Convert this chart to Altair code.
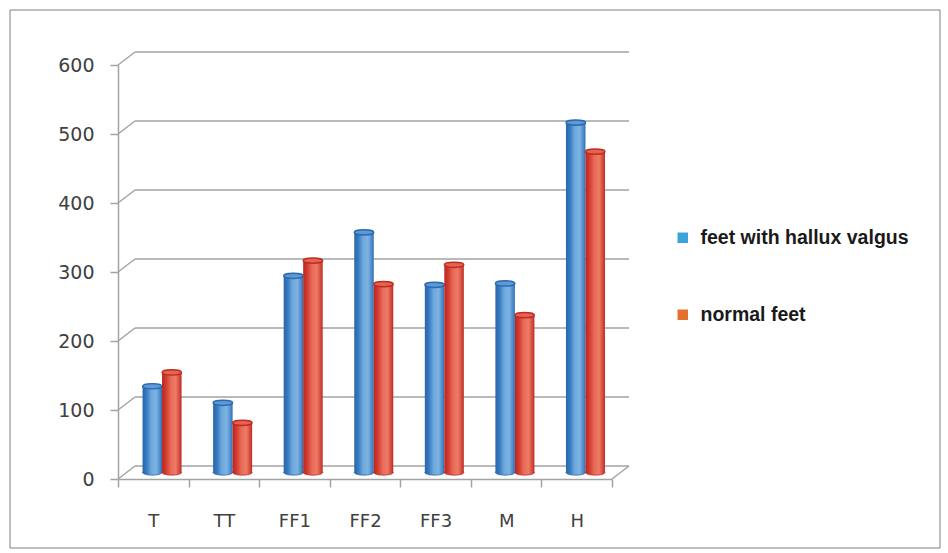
import altair as alt
import pandas as pd

# Mean values per foot region for the two groups
categories = ["T", "TT", "FF1", "FF2", "FF3", "M", "H"]
hallux_valgus = [125, 101, 285, 348, 272, 274, 507]
normal_feet = [145, 72, 307, 273, 301, 228, 465]
series_names = ["feet with hallux valgus", "normal feet"]
legend_colors = ["#3AA3DA", "#E4702E"]
y_ticks = [0, 100, 200, 300, 400, 500, 600]

n = len(categories)
W, H = 494, 414
DX, DY = 17, -13          # depth of the pseudo-3D back wall
MID = DY / 2              # bars stand halfway into the depth
BAR_W = 19.5
GRID = "#A3A3A3"
TXT = "#404040"

bars = pd.DataFrame({
    "cat": categories,
    "pos": [i + 0.5 for i in range(n)],
    "hv": hallux_valgus,
    "nf": normal_feet,
})
grid = pd.DataFrame({"v": y_ticks})
legend_df = pd.DataFrame({"s": series_names})

xs = alt.Scale(domain=[0, n], nice=False, zero=False, padding=0)
ys = alt.Scale(domain=[y_ticks[0], y_ticks[-1]], nice=False, padding=0)

label_expr = "[" + ",".join(f"'{c}'" for c in categories + [""]) + "][datum.value]"

x_axis = alt.Axis(
    values=list(range(n + 1)), labelExpr=label_expr, labelOffset=W / n / 2,
    tickSize=8, tickColor=GRID, tickWidth=1.5, domainColor=GRID, domainWidth=1.5,
    labelFont="DejaVu Sans", labelFontSize=18, labelColor=TXT, labelPadding=25,
    labelOverlap=False, labelFlush=False, grid=False, title=None, zindex=1,
)
y_axis = alt.Axis(
    values=y_ticks, tickSize=8, tickColor=GRID, tickWidth=1.5, domainColor=GRID,
    domainWidth=1.5, labelFont="DejaVu Sans", labelFontSize=19, labelColor=TXT,
    labelPadding=16, grid=False, title=None, zindex=1,
)


def grad(stops):
    return alt.LinearGradient(
        gradient="linear", x1=0, x2=1, y1=0, y2=0,
        stops=[alt.GradientStop(offset=o, color=c) for o, c in stops],
    )


blue_fill = grad([(0, "#2A66AA"), (0.2, "#3479C0"), (0.45, "#6EA8DC"),
                  (0.7, "#7DB3E2"), (0.9, "#4A8ACB"), (1, "#2E6BB0")])
red_fill = grad([(0, "#B8261F"), (0.2, "#D23A2E"), (0.45, "#E86A58"),
                 (0.7, "#EC7C66"), (0.9, "#D4473A"), (1, "#B82A22")])

ELLIPSE = "M -1 0 A 1 0.27 0 1 0 1 0 A 1 0.27 0 1 0 -1 0 Z"
SYM = BAR_W ** 2

# Outer frame
frame = alt.Chart(pd.DataFrame({"k": [0]})).mark_rect(
    fill="transparent", stroke="#7F7F7F", strokeWidth=1
).encode(
    x=alt.value(-108), x2=alt.value(822), y=alt.value(-55), y2=alt.value(483)
)

# Back-wall gridlines
back_grid = alt.Chart(grid).mark_rule(
    color=GRID, strokeWidth=1.5, xOffset=DX, x2Offset=DX, yOffset=DY, y2Offset=DY
).encode(
    x=alt.X(datum=0, scale=xs, axis=x_axis), x2=alt.X2(datum=n),
    y=alt.Y("v:Q", scale=ys, axis=y_axis), y2="v:Q",
)

# Diagonals joining the front axis to the back wall
left_links = alt.Chart(grid).mark_rule(
    color=GRID, strokeWidth=1.5, x2Offset=DX, y2Offset=DY
).encode(x=alt.datum(0), x2=alt.datum(0), y="v:Q", y2="v:Q")

right_link = alt.Chart(grid).transform_filter(
    alt.datum.v == y_ticks[0]
).mark_rule(
    color=GRID, strokeWidth=1.5, x2Offset=DX, y2Offset=DY
).encode(x=alt.datum(n), x2=alt.datum(n), y="v:Q", y2="v:Q")


def cylinder(field, dx, fill, cap_fill, cap_stroke):
    base = alt.Chart(bars)
    bottom = base.mark_point(
        shape=ELLIPSE, size=SYM, filled=True, fill=fill, stroke=cap_stroke,
        strokeWidth=0.8, opacity=1, xOffset=dx, yOffset=MID,
    ).encode(x="pos:Q", y=alt.datum(0))
    body = base.mark_bar(
        width=BAR_W, fill=fill, xOffset=dx, yOffset=MID, y2Offset=MID,
    ).encode(x="pos:Q", y=f"{field}:Q", y2=alt.datum(0))
    cap = base.mark_point(
        shape=ELLIPSE, size=SYM, filled=True, fill=cap_fill, stroke=cap_stroke,
        strokeWidth=1.4, opacity=1, xOffset=dx, yOffset=MID,
    ).encode(x="pos:Q", y=f"{field}:Q")
    return [bottom, body, cap]


blue = cylinder("hv", -1, blue_fill, "#5C9AD6", "#2C68AE")
red = cylinder("nf", 18.5, red_fill, "#E5644F", "#BE2C24")

legend_layer = alt.Chart(legend_df).transform_filter("false").mark_square().encode(
    color=alt.Color(
        "s:N",
        scale=alt.Scale(domain=series_names, range=legend_colors),
        legend=alt.Legend(
            orient="none", legendX=555, legendY=163, title=None, padding=0,
            symbolType="square", symbolSize=110, symbolStrokeWidth=0,
            symbolOpacity=1, labelFont="Liberation Sans", labelFontWeight="bold",
            labelFontSize=19.5, labelColor="#1A1A1A", labelOffset=8,
            labelLimit=400, rowPadding=56,
        ),
    )
)

chart = alt.layer(
    frame, back_grid, left_links, right_link, *blue, *red, legend_layer
).properties(
    width=W, height=H,
    autosize=alt.AutoSizeParams(type="none"),
    padding={"left": 118, "top": 65, "right": 336, "bottom": 74},
    background="white",
).configure_view(strokeWidth=0)

chart.save("out.html", embed_options={"renderer": "svg", "actions": False})
